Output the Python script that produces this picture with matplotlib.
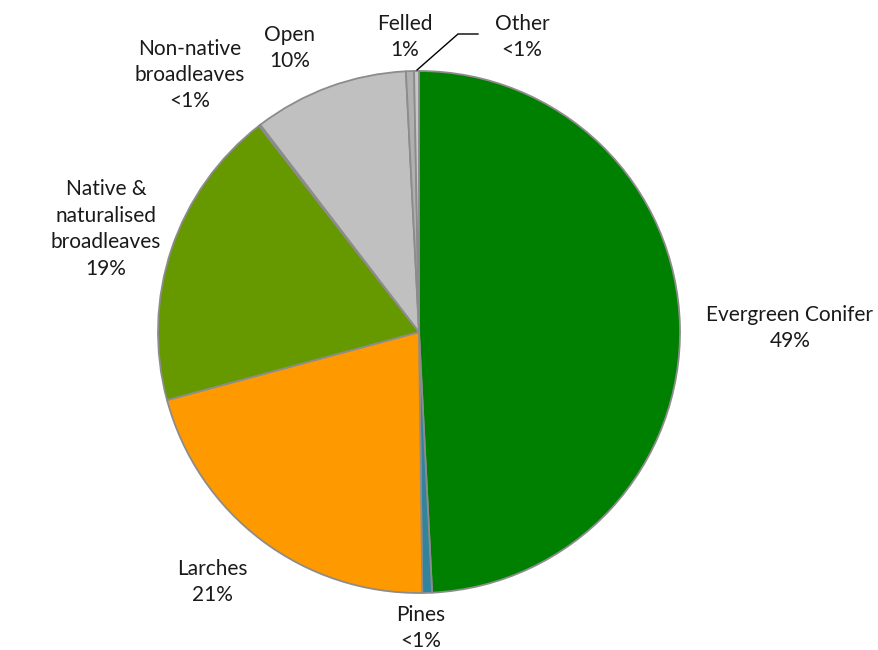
import matplotlib
matplotlib.use("Agg")
import matplotlib.pyplot as plt

categories = ["Evergreen Conifer", "Pines", "Larches", "Native & naturalised broadleaves",
              "Non-native broadleaves", "Open", "Felled", "Other"]
values = [49.2, 0.6, 21.0, 18.7, 0.1, 9.6, 0.5, 0.3]
label_texts = ["Evergreen Conifer\n49%", "Pines\n<1%", "Larches\n21%",
               "Native &\nnaturalised\nbroadleaves\n19%", "Non-native\nbroadleaves\n<1%",
               "Open\n10%", "Felled\n1%", "Other\n<1%"]
colors = ["#008000", "#31849B", "#FF9900", "#669900", "#8EB4E3", "#C0C0C0", "#B0B0B0", "#C8C8C8"]

W, H = 879, 650
fig = plt.figure(figsize=(W / 100, H / 100), dpi=100)
ax = fig.add_axes([0, 0, 1, 1])

cx, cy, r = 419, 332, 261
ax.pie(values, colors=colors, startangle=90, counterclock=False,
       center=(cx, H - cy), radius=r, frame=True,
       wedgeprops=dict(edgecolor="#8C8C8C", linewidth=1.3))
ax.set_xlim(0, W)
ax.set_ylim(0, H)
ax.axis("off")

label_pos = [(790, 328), (421, 628), (212, 582), (106, 229), (190, 75),
             (290, 48), (405, 37), (522, 37)]
for txt, (x, y) in zip(label_texts, label_pos):
    ax.text(x, H - y, txt, ha="center", va="center", fontsize=15,
            family="Lato", color="#1a1a1a", linespacing=1.4)

ax.plot([417, 458, 478], [H - 70, H - 34, H - 34], color="black", lw=1)

fig.savefig("out.png", dpi=100)
